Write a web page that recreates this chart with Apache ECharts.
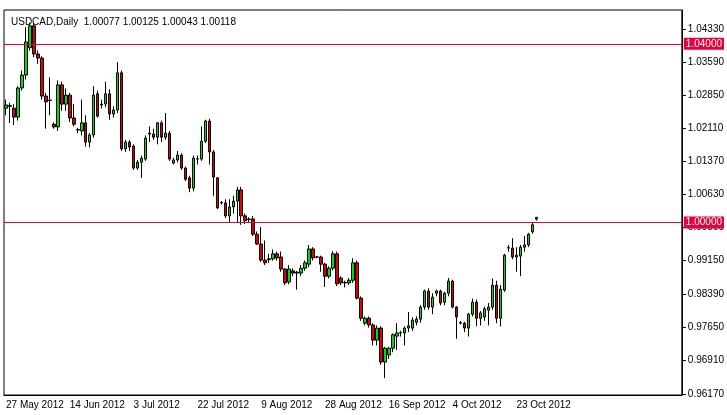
<!DOCTYPE html>
<html>
<head>
<meta charset="utf-8">
<script src="https://cdn.jsdelivr.net/npm/echarts@6/dist/echarts.min.js"></script>
<style>html,body{margin:0;padding:0;background:#fff}#main{width:727px;height:415px}</style>
</head>
<body>
<div id="main"></div>
<script>
// 日线数据 [开, 收, 低, 高]
var ohlc = [
[1.0256,1.0263,1.0240,1.0275],[1.0262,1.0260,1.0223,1.0268],[1.0256,1.0236,1.0218,1.0265],[1.0236,1.0301,1.0228,1.0305],
[1.0301,1.0330,1.0295,1.0340],[1.0330,1.0404,1.0320,1.0437],[1.0391,1.0440,1.0385,1.0447],[1.0440,1.0377,1.0370,1.0447],
[1.0377,1.0368,1.0355,1.0385],[1.0368,1.0283,1.0275,1.0372],[1.0283,1.0270,1.0210,1.0290],[1.0274,1.0273,1.0240,1.0325],
[1.0220,1.0214,1.0210,1.0224],[1.0214,1.0308,1.0205,1.0318],[1.0308,1.0265,1.0250,1.0315],[1.0265,1.0285,1.0250,1.0300],
[1.0285,1.0234,1.0225,1.0290],[1.0234,1.0220,1.0215,1.0265],[1.0208,1.0207,1.0200,1.0212],[1.0205,1.0223,1.0195,1.0275],
[1.0223,1.0180,1.0170,1.0240],[1.0180,1.0196,1.0168,1.0200],[1.0196,1.0285,1.0190,1.0305],[1.0288,1.0238,1.0235,1.0295],
[1.0265,1.0263,1.0255,1.0275],[1.0265,1.0288,1.0258,1.0315],[1.0288,1.0243,1.0230,1.0298],[1.0243,1.0252,1.0235,1.0260],
[1.0252,1.0335,1.0245,1.0359],[1.0335,1.0165,1.0160,1.0340],[1.0165,1.0180,1.0158,1.0185],[1.0180,1.0169,1.0160,1.0185],
[1.0171,1.0122,1.0118,1.0175],[1.0122,1.0135,1.0118,1.0140],[1.0135,1.0144,1.0100,1.0150],[1.0142,1.0189,1.0138,1.0195],
[1.0200,1.0198,1.0180,1.0215],[1.0198,1.0191,1.0185,1.0210],[1.0191,1.0223,1.0175,1.0225],[1.0223,1.0191,1.0180,1.0228],
[1.0191,1.0200,1.0185,1.0245],[1.0200,1.0142,1.0138,1.0205],[1.0133,1.0140,1.0130,1.0145],[1.0140,1.0151,1.0135,1.0160],
[1.0151,1.0122,1.0118,1.0155],[1.0122,1.0097,1.0093,1.0125],[1.0100,1.0077,1.0068,1.0105],[1.0077,1.0144,1.0070,1.0150],
[1.0142,1.0143,1.0130,1.0150],[1.0142,1.0182,1.0138,1.0215],[1.0182,1.0227,1.0178,1.0230],[1.0227,1.0158,1.0130,1.0232],
[1.0158,1.0102,1.0060,1.0162],[1.0100,1.0033,1.0030,1.0102],[1.0044,1.0045,1.0040,1.0048],[1.0044,1.0015,1.0010,1.0052],
[1.0015,1.0035,1.0000,1.0052],[1.0035,1.0048,1.0020,1.0060],[1.0048,1.0073,1.0000,1.0080],[1.0073,1.0015,0.9995,1.0080],
[1.0015,1.0004,0.9997,1.0020],[1.0008,1.0007,1.0000,1.0012],[1.0008,0.9974,0.9970,1.0015],[0.9974,0.9952,0.9950,0.9980],
[0.9952,0.9916,0.9912,0.9990],[0.9916,0.9910,0.9905,0.9960],[0.9917,0.9919,0.9910,0.9930],[0.9919,0.9930,0.9915,0.9940],
[0.9930,0.9921,0.9915,0.9935],[0.9923,0.9896,0.9890,0.9935],[0.9896,0.9865,0.9860,0.9898],[0.9867,0.9896,0.9862,0.9905],
[0.9892,0.9887,0.9880,0.9898],[0.9887,0.9889,0.9850,0.9892],[0.9887,0.9898,0.9880,0.9905],[0.9898,0.9910,0.9892,0.9915],
[0.9907,0.9941,0.9900,0.9950],[0.9941,0.9921,0.9915,0.9945],[0.9923,0.9923,0.9920,0.9925],[0.9923,0.9907,0.9890,0.9926],
[0.9907,0.9880,0.9856,0.9910],[0.9880,0.9898,0.9875,0.9902],[0.9898,0.9930,0.9893,0.9936],[0.9930,0.9863,0.9858,0.9935],
[0.9876,0.9865,0.9860,0.9880],[0.9866,0.9865,0.9855,0.9870],[0.9865,0.9871,0.9860,0.9876],[0.9871,0.9910,0.9865,0.9920],
[0.9910,0.9831,0.9828,0.9915],[0.9831,0.9786,0.9780,0.9835],[0.9775,0.9786,0.9770,0.9790],[0.9786,0.9771,0.9765,0.9790],
[0.9771,0.9737,0.9725,0.9775],[0.9737,0.9764,0.9725,0.9770],[0.9764,0.9688,0.9682,0.9768],[0.9688,0.9719,0.9652,0.9722],
[0.9704,0.9719,0.9695,0.9722],[0.9719,0.9749,0.9710,0.9752],[0.9746,0.9753,0.9715,0.9775],[0.9753,0.9754,0.9745,0.9758],
[0.9753,0.9764,0.9725,0.9768],[0.9764,0.9769,0.9755,0.9800],[0.9764,0.9782,0.9758,0.9788],[0.9777,0.9784,0.9770,0.9790],
[0.9784,0.9811,0.9776,0.9815],[0.9811,0.9847,0.9805,0.9850],[0.9847,0.9811,0.9805,0.9853],[0.9811,0.9833,0.9795,0.9842],
[0.9842,0.9847,0.9835,0.9850],[0.9847,0.9820,0.9815,0.9850],[0.9822,0.9842,0.9815,0.9845],[0.9842,0.9869,0.9835,0.9876],
[0.9869,0.9811,0.9808,0.9872],[0.9811,0.9789,0.9740,0.9813],[0.9775,0.9776,0.9772,0.9780],[0.9775,0.9764,0.9755,0.9778],
[0.9764,0.9795,0.9745,0.9798],[0.9795,0.9822,0.9790,0.9830],[0.9822,0.9786,0.9768,0.9828],[0.9786,0.9798,0.9770,0.9802],
[0.9789,0.9807,0.9780,0.9812],[0.9804,0.9811,0.9770,0.9820],[0.9811,0.9860,0.9805,0.9875],[0.9860,0.9786,0.9775,0.9870],
[0.9786,0.9851,0.9768,0.9860],[0.9849,0.9927,0.9845,0.9930],[0.9943,0.9944,0.9935,0.9950],[0.9943,0.9923,0.9918,0.9965],
[0.9923,0.9927,0.9890,0.9945],[0.9925,0.9945,0.9880,0.9950],[0.9945,0.9950,0.9935,0.9970],[0.9950,0.9974,0.9945,0.9977],
[0.9979,0.9995,0.9975,1.0000],[1.00077,1.00118,1.00043,1.00125]
];
var yTicks = [0.96170,0.96910,0.97650,0.98390,0.99150,0.99890,1.00630,1.01370,1.02110,1.02850,1.03590,1.04330];
var levels = [1.04, 1.00];
var lastClose = 1.00118;
var totalSlots = 170; // 右侧留白

// 日期：周日到周五（跳过周六）
var months = ['Jan','Feb','Mar','Apr','May','Jun','Jul','Aug','Sep','Oct','Nov','Dec'];
var dates = [];
var d = new Date(2012, 4, 27);
while (dates.length < ohlc.length) {
    if (d.getDay() != 6) dates.push(d.getDate() + ' ' + months[d.getMonth()] + ' ' + d.getFullYear());
    d.setDate(d.getDate() + 1);
}
while (dates.length < totalSlots) dates.push('');

var font = 'Liberation Sans';
var chart = echarts.init(document.getElementById('main'));
var marks = levels.map(function (v) {
    return {yAxis: v, lineStyle: {color: '#e8003a', width: 1, type: 'solid'},
        label: {formatter: v.toFixed(5), backgroundColor: '#e8003a', color: '#fff'}};
});
marks.unshift({yAxis: lastClose, lineStyle: {opacity: 0},
    label: {formatter: lastClose.toFixed(5), backgroundColor: '#000', color: '#fff'}});

chart.setOption({
    animation: false,
    textStyle: {fontFamily: font},
    title: {
        text: 'USDCAD,Daily  1.00077 1.00125 1.00043 1.00118',
        left: 6, top: 12,
        textStyle: {fontSize: 10, fontWeight: 'normal', color: '#000', fontFamily: font}
    },
    grid: {left: 4, right: 41, top: 10, bottom: 20, show: true, borderColor: '#000', borderWidth: 1},
    xAxis: {
        type: 'category', data: dates, boundaryGap: true,
        axisLine: {lineStyle: {color: '#000'}},
        axisTick: {interval: 15, alignWithLabel: true, lineStyle: {color: '#000'}},
        axisLabel: {interval: 15, align: 'left', fontSize: 10, color: '#000', margin: 5},
        splitLine: {show: false}
    },
    yAxis: {
        type: 'value', position: 'right', min: 0.96143, max: 1.04755, scale: true,
        axisLine: {show: true, lineStyle: {color: '#000'}},
        axisTick: {show: true, customValues: yTicks, length: 4, lineStyle: {color: '#000'}},
        axisLabel: {customValues: yTicks, fontSize: 10, color: '#000', margin: 6,
            formatter: function (v) { return v.toFixed(5); }},
        splitLine: {show: false}
    },
    series: [{
        type: 'candlestick',
        data: ohlc,
        barWidth: 3,
        itemStyle: {color: '#00e000', color0: '#e00000', borderColor: '#000', borderColor0: '#000', borderWidth: 1},
        markLine: {
            symbol: 'none', silent: true, animation: false,
            label: {position: 'end', fontSize: 10, padding: [1, 2], distance: 2, fontFamily: font},
            data: marks
        }
    }]
});
</script>
</body>
</html>
